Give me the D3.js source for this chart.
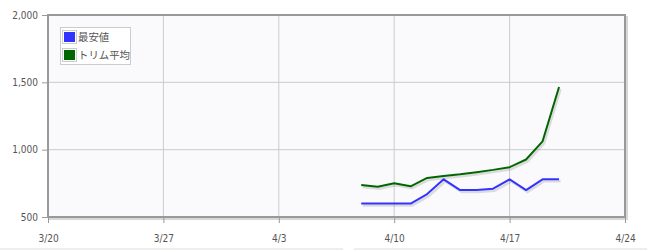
<!DOCTYPE html>
<html>
<head>
<meta charset="utf-8">
<script src="https://cdn.jsdelivr.net/npm/d3@7"></script>
<style>
  body { margin: 0; background: #fff; }
  #chart svg { display: block; }
</style>
</head>
<body>
<div id="chart"></div>
<script>
// data
const dates = ['2024-04-08', '2024-04-09', '2024-04-10', '2024-04-11', '2024-04-12', '2024-04-13', '2024-04-14',
  '2024-04-15', '2024-04-16', '2024-04-17', '2024-04-18', '2024-04-19', '2024-04-20'];
const minPrice = [600, 600, 600, 600, 670, 780, 700, 700, 710, 780, 700, 780, 780];
const trimAvg = [738, 725, 750, 728, 790, 805, 817, 833, 850, 870, 927, 1062, 1465];
const seriesNames = ['最安値', 'トリム平均'];
const seriesColors = ['#3333ff', '#006600'];
const xTicks = ['2024-03-20', '2024-03-27', '2024-04-03', '2024-04-10', '2024-04-17', '2024-04-24'];
const yTicks = [500, 1000, 1500, 2000];

const width = 647;
const height = 250;
const margin = { top: 15, right: 22, bottom: 33, left: 48 };

const parse = d3.timeParse('%Y-%m-%d');

const svg = d3.select('#chart').append('svg')
  .attr('width', width)
  .attr('height', height);

const xScale = d3.scaleTime()
  .domain([parse(xTicks[0]), parse(xTicks[xTicks.length - 1])])
  .range([margin.left, width - margin.right]);

const yScale = d3.scaleLinear()
  .domain([500, 2000])
  .range([height - margin.bottom, margin.top]);

const plotW = width - margin.left - margin.right;
const plotH = height - margin.top - margin.bottom;

// frame shadow + background
svg.append('rect')
  .attr('x', margin.left + 2).attr('y', margin.top + 2)
  .attr('width', plotW).attr('height', plotH)
  .attr('fill', 'none').attr('stroke', '#d8d8d8').attr('stroke-width', 2);

svg.append('rect')
  .attr('x', margin.left).attr('y', margin.top)
  .attr('width', plotW).attr('height', plotH)
  .attr('fill', '#fafafd');

// grid
const grid = svg.append('g');
grid.selectAll('line.v')
  .data(xTicks.slice(1, -1))
  .enter().append('line')
  .attr('x1', d => xScale(parse(d))).attr('x2', d => xScale(parse(d)))
  .attr('y1', margin.top).attr('y2', height - margin.bottom)
  .attr('stroke', '#cccccc').attr('stroke-width', 1);
grid.selectAll('line.h')
  .data(yTicks.slice(1, -1))
  .enter().append('line')
  .attr('x1', margin.left).attr('x2', width - margin.right)
  .attr('y1', d => yScale(d)).attr('y2', d => yScale(d))
  .attr('stroke', '#cccccc').attr('stroke-width', 1);

// axes
const xAxis = svg.append('g')
  .attr('transform', `translate(0, ${height - margin.bottom})`)
  .call(d3.axisBottom(xScale)
    .tickValues(xTicks.map(parse))
    .tickFormat(d3.timeFormat('%-m/%-d'))
    .tickSize(6).tickPadding(12));

const yAxis = svg.append('g')
  .attr('transform', `translate(${margin.left}, 0)`)
  .call(d3.axisLeft(yScale)
    .tickValues(yTicks)
    .tickFormat(d3.format(','))
    .tickSize(6).tickPadding(4));

[xAxis, yAxis].forEach(a => {
  a.select('.domain').remove();
  a.selectAll('line').attr('stroke', '#999');
  a.selectAll('text')
    .attr('fill', '#555')
    .style('font-family', 'DejaVu Sans Condensed, DejaVu Sans, sans-serif')
    .style('font-size', '10px');
});

// frame border
svg.append('rect')
  .attr('x', margin.left).attr('y', margin.top)
  .attr('width', plotW).attr('height', plotH)
  .attr('fill', 'none').attr('stroke', '#999').attr('stroke-width', 2);

// lines
const seriesData = [minPrice, trimAvg];
const line = d3.line()
  .x((d, i) => xScale(parse(dates[i])))
  .y(d => yScale(d));

seriesData.forEach((values, k) => {
  svg.append('path')
    .datum(values)
    .attr('d', line)
    .attr('transform', 'translate(1.5, 2)')
    .attr('fill', 'none')
    .attr('stroke', 'rgba(0,0,0,0.12)')
    .attr('stroke-width', 2.5);
  svg.append('path')
    .datum(values)
    .attr('d', line)
    .attr('fill', 'none')
    .attr('stroke', seriesColors[k])
    .attr('stroke-width', 2)
    .attr('stroke-linejoin', 'round');
});

// legend
const legend = svg.append('g').attr('transform', 'translate(60, 27)');
legend.append('rect')
  .attr('x', 0.5).attr('y', 0.5)
  .attr('width', 70).attr('height', 37)
  .attr('fill', '#fff').attr('stroke', '#ccc');

seriesNames.forEach((name, i) => {
  const row = legend.append('g').attr('transform', `translate(2, ${3 + i * 18})`);
  row.append('rect')
    .attr('x', 0.5).attr('y', 0.5)
    .attr('width', 14).attr('height', 13)
    .attr('fill', '#fff').attr('stroke', '#ccc');
  row.append('rect')
    .attr('x', 2).attr('y', 2)
    .attr('width', 11).attr('height', 10)
    .attr('fill', seriesColors[i]);
  row.append('text')
    .attr('x', 16).attr('y', 11)
    .attr('fill', '#545454')
    .style('font-family', 'Noto Sans CJK JP, sans-serif')
    .style('font-size', '10.4px')
    .text(name);
});

// faint divider lines along the bottom edge of the page
svg.append('line')
  .attr('x1', 0).attr('x2', 343).attr('y1', 249).attr('y2', 249)
  .attr('stroke', '#ddd');
svg.append('line')
  .attr('x1', 354).attr('x2', width).attr('y1', 249).attr('y2', 249)
  .attr('stroke', '#ddd');
</script>
</body>
</html>
